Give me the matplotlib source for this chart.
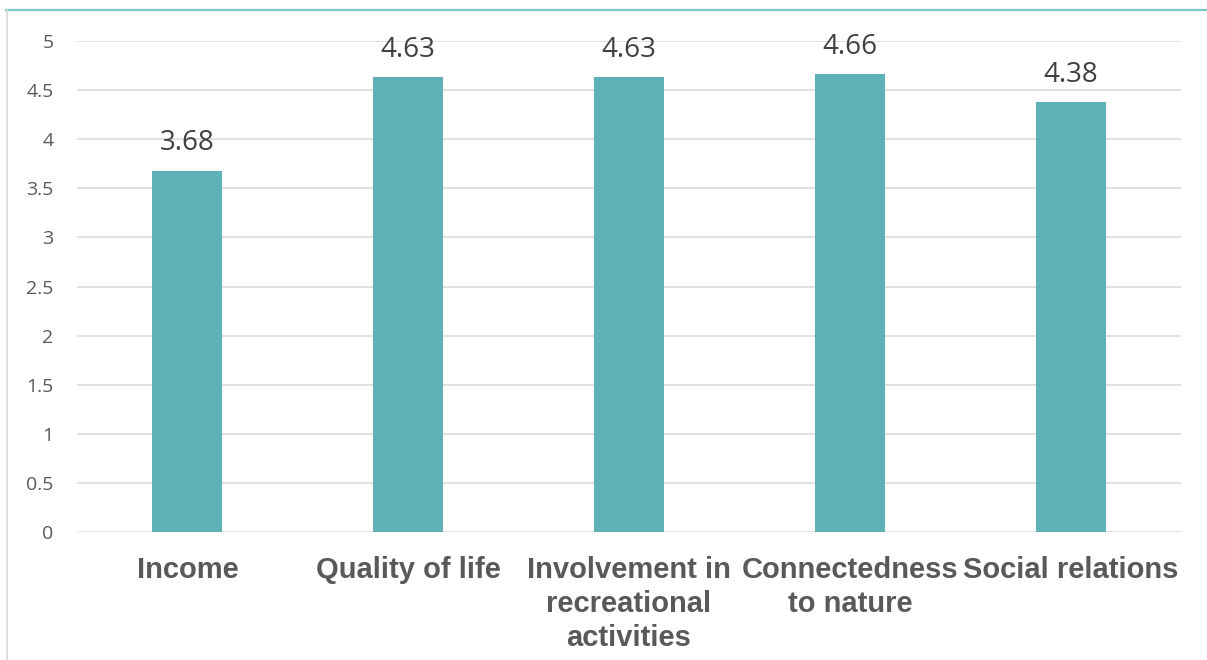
import matplotlib
matplotlib.use("Agg")
import matplotlib.pyplot as plt
from matplotlib.lines import Line2D

categories = ["Income", "Quality of life", "Involvement in\nrecreational\nactivities",
              "Connectedness\nto nature", "Social relations"]
values = [3.68, 4.63, 4.63, 4.66, 4.38]
yticks = [0, 0.5, 1, 1.5, 2, 2.5, 3, 3.5, 4, 4.5, 5]
ytick_labels = ["0", "0.5", "1", "1.5", "2", "2.5", "3", "3.5", "4", "4.5", "5"]

bar_color = "#5EB1B4"
text_color = "#595959"
grid_color = "#D9D9D9"

fig = plt.figure(figsize=(12.07, 6.6), dpi=100)
ax = fig.add_axes([0.0638, 0.1939, 0.9147, 0.744])

x = range(len(categories))
bars = ax.bar(x, values, width=0.317, color=bar_color, zorder=3)

for b, v in zip(bars, values):
    ax.annotate(f"{v:.2f}", (b.get_x() + b.get_width() / 2, v),
                xytext=(0, 9.5), textcoords="offset points",
                ha="center", va="bottom", fontsize=20,
                family="Open Sans", color="#404040")

ax.set_xlim(-0.5, len(categories) - 0.5)
ax.set_ylim(0, 5)
ax.set_yticks(yticks)
ax.set_yticklabels(ytick_labels, family="Open Sans", fontsize=14, color=text_color)
ax.set_xticks(list(x))
ax.set_xticklabels(categories, family="Liberation Sans", fontweight="bold",
                   fontsize=21, color=text_color, linespacing=1.28)
ax.tick_params(axis="y", length=0, pad=17)
ax.tick_params(axis="x", length=0, pad=17)
ax.grid(axis="y", color=grid_color, linewidth=1.1, zorder=0)
for s in ax.spines.values():
    s.set_visible(False)

# chart frame: teal top rule and grey left rule
fig.add_artist(Line2D([6 / 1207, 1], [1 - 10 / 660, 1 - 10 / 660],
                      transform=fig.transFigure, color="#7CC4C6", linewidth=1.6))
fig.add_artist(Line2D([6.5 / 1207, 6.5 / 1207], [0, 1 - 10 / 660],
                      transform=fig.transFigure, color=grid_color, linewidth=1.2))

fig.savefig("out.png", dpi=100)
